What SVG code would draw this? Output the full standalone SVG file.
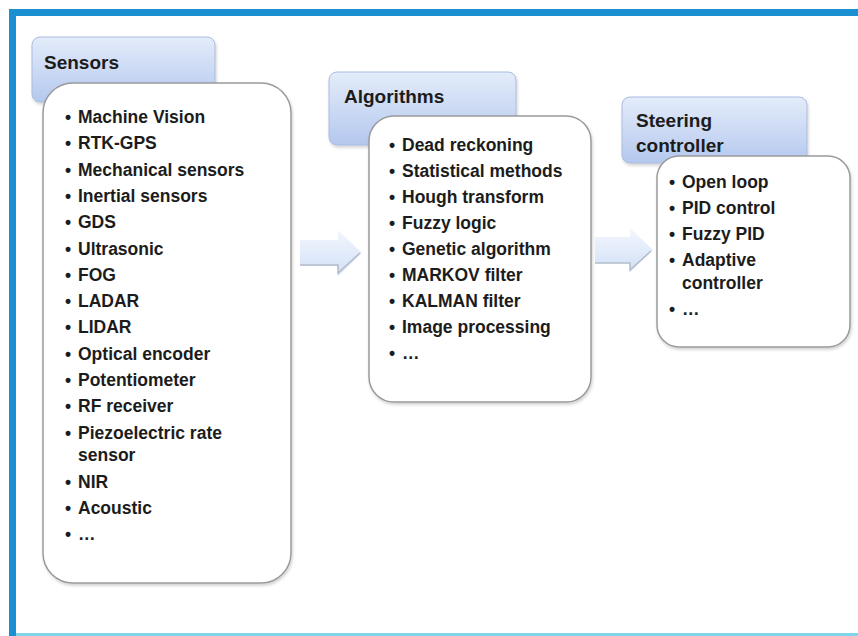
<svg xmlns="http://www.w3.org/2000/svg" width="858" height="636" viewBox="0 0 858 636">
<defs>
<linearGradient id="hdr" x1="0" y1="0" x2="0" y2="1">
<stop offset="0" stop-color="#e4ecfa"/>
<stop offset="1" stop-color="#b4c8ee"/>
</linearGradient>
<linearGradient id="arr" x1="0" y1="0" x2="0" y2="1">
<stop offset="0" stop-color="#f3f7fd"/>
<stop offset="1" stop-color="#d2e0f8"/>
</linearGradient>
<filter id="sh" x="-10%" y="-10%" width="120%" height="120%">
<feDropShadow dx="1" dy="2" stdDeviation="1.5" flood-color="#000" flood-opacity="0.18"/>
</filter>
</defs>
<style>
.hdr{fill:url(#hdr);stroke:#a9bcdf;stroke-width:1;filter:url(#sh)}
.body{fill:#ffffff;stroke:#9a9a9a;stroke-width:1.5;filter:url(#sh)}
.ht{font-family:"Liberation Sans",Arial,sans-serif;font-weight:bold;font-size:19px;fill:#1c1c1c}
.it{font-family:"Liberation Sans",Arial,sans-serif;font-weight:bold;font-size:17.5px;fill:#1c1c1c}
.arrow{fill:url(#arr);stroke:none}
.aedge{fill:none;stroke:#b4bcc8;stroke-width:1.5}
</style>
<rect x="0" y="0" width="858" height="636" fill="#ffffff"/>
<rect x="9" y="9" width="849" height="7" fill="#1a8fd2"/>
<rect x="9" y="9" width="7" height="627" fill="#1a8fd2"/>
<rect x="16" y="633" width="842" height="3" fill="#7fd6e6"/>

<g id="connectors">
<path class="arrow" d="M300 240 H338 V230 L362 253 L338 276 V266 H300 Z"/>
<path class="aedge" d="M300 265 H338 L338 273 L360 253"/>
<path class="arrow" d="M595 237 H630 V228 L653 250 L630 272 V263 H595 Z"/>
<path class="aedge" d="M595 263 H630 L630 270 L651 251"/>
</g>

<g id="sensors">
<rect class="hdr" x="32" y="37" width="183" height="65" rx="8"/>
<text class="ht" x="44" y="69">Sensors</text>
<rect class="body" x="43" y="83" width="248" height="500" rx="30"/>
<text class="it"><tspan x="65" y="123">•</tspan><tspan x="78" y="123">Machine Vision</tspan></text>
<text class="it"><tspan x="65" y="149.3">•</tspan><tspan x="78" y="149.3">RTK-GPS</tspan></text>
<text class="it"><tspan x="65" y="175.6">•</tspan><tspan x="78" y="175.6">Mechanical sensors</tspan></text>
<text class="it"><tspan x="65" y="201.9">•</tspan><tspan x="78" y="201.9">Inertial sensors</tspan></text>
<text class="it"><tspan x="65" y="228.2">•</tspan><tspan x="78" y="228.2">GDS</tspan></text>
<text class="it"><tspan x="65" y="254.5">•</tspan><tspan x="78" y="254.5">Ultrasonic</tspan></text>
<text class="it"><tspan x="65" y="280.8">•</tspan><tspan x="78" y="280.8">FOG</tspan></text>
<text class="it"><tspan x="65" y="307.1">•</tspan><tspan x="78" y="307.1">LADAR</tspan></text>
<text class="it"><tspan x="65" y="333.4">•</tspan><tspan x="78" y="333.4">LIDAR</tspan></text>
<text class="it"><tspan x="65" y="359.7">•</tspan><tspan x="78" y="359.7">Optical encoder</tspan></text>
<text class="it"><tspan x="65" y="386">•</tspan><tspan x="78" y="386">Potentiometer</tspan></text>
<text class="it"><tspan x="65" y="412.3">•</tspan><tspan x="78" y="412.3">RF receiver</tspan></text>
<text class="it"><tspan x="65" y="438.6">•</tspan><tspan x="78" y="438.6">Piezoelectric rate</tspan><tspan x="78" y="461">sensor</tspan></text>
<text class="it"><tspan x="65" y="487.5">•</tspan><tspan x="78" y="487.5">NIR</tspan></text>
<text class="it"><tspan x="65" y="513.8">•</tspan><tspan x="78" y="513.8">Acoustic</tspan></text>
<text class="it"><tspan x="65" y="540">•</tspan><tspan x="78" y="540">…</tspan></text>
</g>

<g id="algorithms">
<rect class="hdr" x="329" y="72" width="187" height="73" rx="8"/>
<text class="ht" x="344" y="103">Algorithms</text>
<rect class="body" x="369" y="116" width="222" height="286" rx="25"/>
<text class="it"><tspan x="389" y="151">•</tspan><tspan x="402" y="151">Dead reckoning</tspan></text>
<text class="it"><tspan x="389" y="177">•</tspan><tspan x="402" y="177">Statistical methods</tspan></text>
<text class="it"><tspan x="389" y="203">•</tspan><tspan x="402" y="203">Hough transform</tspan></text>
<text class="it"><tspan x="389" y="229">•</tspan><tspan x="402" y="229">Fuzzy logic</tspan></text>
<text class="it"><tspan x="389" y="255">•</tspan><tspan x="402" y="255">Genetic algorithm</tspan></text>
<text class="it"><tspan x="389" y="281">•</tspan><tspan x="402" y="281">MARKOV filter</tspan></text>
<text class="it"><tspan x="389" y="307">•</tspan><tspan x="402" y="307">KALMAN filter</tspan></text>
<text class="it"><tspan x="389" y="333">•</tspan><tspan x="402" y="333">Image processing</tspan></text>
<text class="it"><tspan x="389" y="359">•</tspan><tspan x="402" y="359">…</tspan></text>
</g>

<g id="steering">
<rect class="hdr" x="622" y="97" width="185" height="66" rx="8"/>
<text class="ht" x="636" y="127">Steering</text>
<text class="ht" x="636" y="152">controller</text>
<rect class="body" x="657" y="156" width="193" height="191" rx="22"/>
<text class="it"><tspan x="669" y="188">•</tspan><tspan x="682" y="188">Open loop</tspan></text>
<text class="it"><tspan x="669" y="214">•</tspan><tspan x="682" y="214">PID control</tspan></text>
<text class="it"><tspan x="669" y="240">•</tspan><tspan x="682" y="240">Fuzzy PID</tspan></text>
<text class="it"><tspan x="669" y="266">•</tspan><tspan x="682" y="266">Adaptive</tspan><tspan x="682" y="289">controller</tspan></text>
<text class="it"><tspan x="669" y="315">•</tspan><tspan x="682" y="315">…</tspan></text>
</g>
</svg>
